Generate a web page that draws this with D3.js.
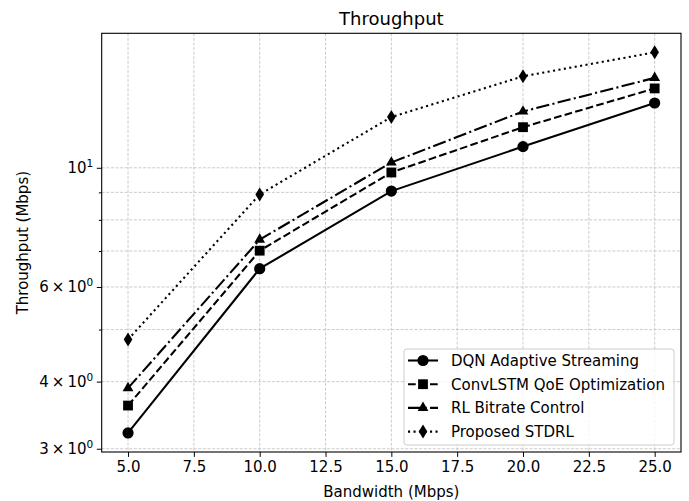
<!DOCTYPE html>
<html>
<head>
<meta charset="utf-8">
<script src="https://cdn.jsdelivr.net/npm/d3@7"></script>
<style>
  body { margin: 0; background: #fff; }
  svg { display: block; font-family: "DejaVu Sans", sans-serif; }
</style>
</head>
<body>
<div id="chart"></div>
<script>
const bandwidth = [5, 10, 15, 20, 25];
const dqn = [3.21, 6.49, 9.05, 10.95, 13.2];
const convLstm = [3.61, 7.01, 9.8, 11.9, 14.05];
const rlBitrate = [3.89, 7.35, 10.23, 12.73, 14.7];
const stdrl = [4.79, 8.92, 12.43, 14.8, 16.4];

const xTicks = [5, 7.5, 10, 12.5, 15, 17.5, 20, 22.5, 25];
const yGridTicks = [3, 4, 5, 6, 7, 8, 9, 10];
const yLabelled = [
  { v: 3, base: "3\u2009\u00d7\u200910", exp: "0" },
  { v: 4, base: "4\u2009\u00d7\u200910", exp: "0" },
  { v: 6, base: "6\u2009\u00d7\u200910", exp: "0" },
  { v: 10, base: "10", exp: "1" },
];

const series = [
  { name: "DQN Adaptive Streaming", values: dqn, marker: "circle", dash: null },
  { name: "ConvLSTM QoE Optimization", values: convLstm, marker: "square", dash: "7.7,3.3" },
  { name: "RL Bitrate Control", values: rlBitrate, marker: "triangle", dash: "13.3,3.3,2.1,3.3" },
  { name: "Proposed STDRL", values: stdrl, marker: "diamond", dash: "2.1,3.4" },
];

const width = 689;
const height = 501;
const plot = { left: 101.7, right: 681, top: 33.3, bottom: 452 };
const fs = 15;

// matplotlib-like 5% margin in log space
const all = series.flatMap((s) => s.values);
const lmin = Math.log10(d3.min(all));
const lmax = Math.log10(d3.max(all));
const pad = (lmax - lmin) * 0.05;

const x = d3.scaleLinear([4, 26], [plot.left, plot.right]);
const y = d3.scaleLog([10 ** (lmin - pad), 10 ** (lmax + pad)], [plot.bottom, plot.top]);

const markerPath = (type) => {
  switch (type) {
    case "circle": return d3.symbol(d3.symbolCircle, Math.PI * 5.6 * 5.6)();
    case "square": return "M-4.9,-4.9H4.9V4.9H-4.9Z";
    case "triangle": return "M0,-6.3L5.4,3.15L-5.4,3.15Z";
    case "diamond": return "M0,-7L4.3,0L0,7L-4.3,0Z";
  }
};

const svg = d3.select("#chart").append("svg")
  .attr("width", width).attr("height", height)
  .attr("viewBox", `0 0 ${width} ${height}`);

// grid
const grid = svg.append("g")
  .attr("stroke", "#b0b0b0").attr("stroke-width", 0.8)
  .attr("stroke-dasharray", "3,1.6").attr("opacity", 0.8);
grid.selectAll("line.vx").data(xTicks).join("line")
  .attr("x1", (d) => x(d)).attr("x2", (d) => x(d))
  .attr("y1", plot.top).attr("y2", plot.bottom);
grid.selectAll("line.hy").data(yGridTicks).join("line")
  .attr("y1", (d) => y(d)).attr("y2", (d) => y(d))
  .attr("x1", plot.left).attr("x2", plot.right);

// axes
const xAxis = d3.axisBottom(x).tickValues(xTicks).tickFormat(d3.format(".1f"))
  .tickSize(4.9).tickPadding(4.5).tickSizeOuter(0);
svg.append("g")
  .attr("transform", `translate(0,${plot.bottom})`)
  .call(xAxis)
  .call((g) => g.select(".domain").remove())
  .call((g) => g.selectAll("text").attr("font-size", fs).attr("fill", "#000")
    .attr("font-family", "DejaVu Sans"));

const yMinor = d3.axisLeft(y).tickValues([5, 7, 8, 9]).tickFormat("").tickSize(2.8).tickSizeOuter(0);
svg.append("g").attr("transform", `translate(${plot.left},0)`).call(yMinor)
  .call((g) => g.select(".domain").remove());

const yMajor = d3.axisLeft(y).tickValues(yLabelled.map((d) => d.v)).tickFormat("")
  .tickSize(4.9).tickSizeOuter(0);
svg.append("g").attr("transform", `translate(${plot.left},0)`).call(yMajor)
  .call((g) => g.select(".domain").remove());

const yLab = svg.append("g").attr("font-size", fs).attr("text-anchor", "end");
yLabelled.forEach((d) => {
  const t = yLab.append("text").attr("x", plot.left - 8.5).attr("y", y(d.v)).attr("dy", "0.36em");
  t.append("tspan").text(d.base);
  t.append("tspan").attr("font-size", 10.5).attr("dy", "-0.6em").text(d.exp);
});

// spines
svg.append("rect")
  .attr("x", plot.left).attr("y", plot.top)
  .attr("width", plot.right - plot.left).attr("height", plot.bottom - plot.top)
  .attr("fill", "none").attr("stroke", "#000").attr("stroke-width", 1.1);

// series
const line = d3.line().x((d) => x(d[0])).y((d) => y(d[1]));
series.forEach((s) => {
  const pts = bandwidth.map((b, i) => [b, s.values[i]]);
  svg.append("path").datum(pts).attr("d", line)
    .attr("fill", "none").attr("stroke", "#000").attr("stroke-width", 2.08)
    .attr("stroke-dasharray", s.dash);
  svg.append("g").selectAll("path").data(pts).join("path")
    .attr("transform", (d) => `translate(${x(d[0])},${y(d[1])})`)
    .attr("d", markerPath(s.marker)).attr("fill", "#000");
});

// title and labels
svg.append("text").attr("x", (plot.left + plot.right) / 2).attr("y", 24.5)
  .attr("text-anchor", "middle").attr("font-size", 18).text("Throughput");
svg.append("text").attr("x", (plot.left + plot.right) / 2).attr("y", 497)
  .attr("text-anchor", "middle").attr("font-size", fs).text("Bandwidth (Mbps)");
svg.append("text").attr("transform", `translate(27.5,${(plot.top + plot.bottom) / 2}) rotate(-90)`)
  .attr("text-anchor", "middle").attr("font-size", fs).text("Throughput (Mbps)");

// legend
const lg = svg.append("g").attr("transform", "translate(404,349)");
lg.append("rect").attr("width", 270).attr("height", 96).attr("rx", 3)
  .attr("fill", "#fff").attr("fill-opacity", 0.8).attr("stroke", "#cccccc").attr("stroke-width", 1);
series.forEach((s, i) => {
  const row = lg.append("g").attr("transform", `translate(0,${11.5 + i * 23.7})`);
  row.append("line").attr("x1", 4).attr("x2", 34).attr("stroke", "#000")
    .attr("stroke-width", 2.08).attr("stroke-dasharray", s.dash);
  row.append("path").attr("transform", "translate(19,0)").attr("d", markerPath(s.marker));
  row.append("text").attr("x", 47).attr("dy", "0.36em").attr("font-size", fs).text(s.name);
});
</script>
</body>
</html>
